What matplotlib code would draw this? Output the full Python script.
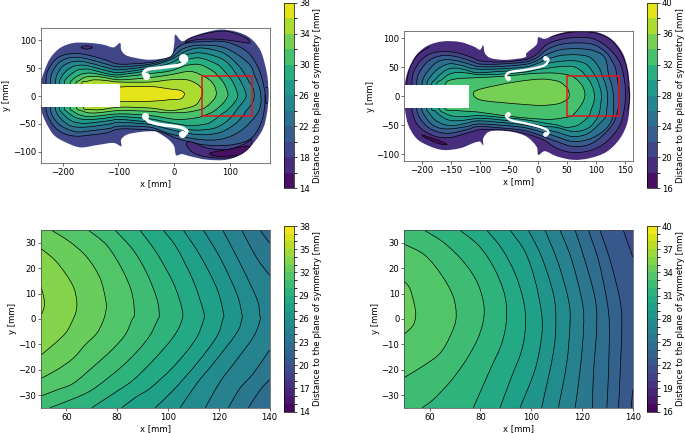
import matplotlib
matplotlib.use("Agg")
import matplotlib.pyplot as plt
import numpy as np
from matplotlib.cm import ScalarMappable
from matplotlib.colors import BoundaryNorm, ListedColormap
from matplotlib.patches import PathPatch, Rectangle
from matplotlib.path import Path

# ================= DATA =================
# Left plate, contours in mm
TL_OUTLINE = [(-239,21.5),(-233,44),(-222,68),(-204.5,86),(-180.6,95),(-151,95),(-127,92),(-109,87),(-97,95),(-95,83),(-88,74),(-73,69),(-43,65),(-7,71),(0,92),(2,110),(14,98),(29,105),(53,113),(82.5,119),(112,115),(136,104),(154,83),(163,56),(168,29),(169,-.5),(167,-27.5),(160,-57),(145,-81),(124,-102),(94.5,-114),(58.5,-114),(29,-108),(14,-104),(3.5,-106),(0,-90),(-10,-78),(-28,-66),(-37,-63),(-61,-64.5),(-84,-69),(-95,-78),(-95,-90),(-109,-84),(-139,-88),(-169,-92),(-198.5,-81),(-216.5,-69),(-231,-45),(-239,-20)]
TL_20 = [(-230,21.5),(-227,44),(-213,65),(-195.5,74),(-172,76),(-145,71),(-121,64),(-97,57),(-43,60),(-25,65),(-7,71),(5,86),(23,95),(47,97),(91.5,97),(130,80),(151,50),(161.5,14),(163,-10),(157,-45),(139,-75),(106,-87),(59,-88),(23,-81),(2,-75),(-19,-66),(-43,-61),(-97,-59),(-121,-66),(-151,-70),(-175,-72),(-195.5,-68),(-213,-57),(-225,-39),(-230,-20)]
TL_22 = [(-222,21.5),(-219,41),(-207.5,59),(-189.5,68),(-169,69),(-142,63),(-118,56),(-97,52),(-43,57),(-7,68),(17,85),(47,91),(91.5,86),(133,59),(145,35),(154,11),(155.5,-12.5),(148,-33),(120,-62),(85.5,-77),(47,-78),(-7,-68),(-43,-56),(-97,-54),(-118,-58.5),(-148,-62),(-172,-64.5),(-189.5,-60),(-206,-51),(-218,-36),(-222,-20)]
TL_24 = [(-213,21.5),(-210,38),(-200,53),(-184,61),(-166,62),(-139,56),(-118,50),(-97,47),(-43,54),(-7,65),(23,81),(50,86),(88.5,77),(115,55),(129,35),(135,24),(140,17),(143.5,5),(143,-5),(140,-12),(133.7,-21.4),(128.4,-27.3),(123.8,-35),(108,-51),(80,-66),(41,-69),(-7,-60),(-43,-51),(-97,-47),(-115,-50),(-142,-54),(-166,-56),(-184,-54),(-198.5,-45),(-209,-33),(-213,-20)]
TL_26 = [(-206,21.5),(-201.5,35),(-191,47),(-177.5,54),(-160,55),(-139,50),(-115,44),(-97,42),(-43,50),(-7,59),(23,74),(50,77),(82.5,68),(100,55),(114,35),(120.6,24),(127,10),(129,2),(129,-.4),(127,-5.6),(118,-17.5),(111.4,-25.4),(104.8,-35),(92,-47),(70.5,-58),(35,-61),(-7,-54),(-43,-47),(-97,-42),(-115,-44),(-139,-47),(-160,-49),(-177.5,-47),(-189.5,-41),(-201,-30),(-206,-20)]
TL_28 = [(-197,21.5),(-192.5,32),(-182,41),(-171.5,47),(-153.5,48),(-133,43),(-115,39),(-97,38),(-43,46),(-7,53),(23,65),(47,68),(76.5,57),(88,47),(98,35),(103.5,28),(110,15),(114,3),(114,-.4),(110.7,-8.3),(102.2,-18.8),(93,-27.3),(87.7,-30.6),(81.8,-35),(70,-44),(58,-50),(29,-53),(-7,-48),(-43,-41),(-97,-37),(-130,-40.5),(-151,-42),(-169,-41),(-180.5,-36.5),(-191,-29),(-197,-20)]
TL_30 = [(-186.5,21.5),(-182,29),(-174.5,35),(-163,40),(-148,41),(-130,38),(-112,35),(-97,34),(-43,40),(-7,45),(23,55),(47,56),(70.5,44),(79,35),(86.4,27),(91.7,18),(95.6,8),(96.6,1.6),(95.9,-.4),(93,-6.3),(88.4,-12.2),(81,-19.4),(70,-28),(61.4,-32),(53.5,-35),(40,-39),(5,-42),(-43,-35),(-97,-32),(-139,-36),(-157,-36.5),(-170,-33.5),(-180.5,-27.5),(-186.5,-20)]
TL_32 = [(-176,21.5),(-170,27.5),(-160,33.5),(-145,35),(-127,33.5),(-97,29),(-43,33),(-7,38),(29,44),(54,35),(61.4,30.4),(68,24.5),(73.3,16),(75.6,6.8),(75.6,3.5),(74.6,-.4),(72,-5.6),(67.4,-10.2),(62.7,-15.5),(56.2,-20),(50,-23.4),(23,-29),(-13,-30),(-43,-27.5),(-97,-26),(-136,-30),(-154,-30),(-166,-26),(-175,-20)]
TL_34 = [(-165.5,21.5),(-157,26),(-142,29),(-121,27.5),(-97,25),(-43,25),(-7,29),(23,29),(41,21.5),(50,12.7),(50.9,9.4),(51.4,6.2),(50.9,3.5),(50,1.6),(47,-5),(39.5,-15.5),(23,-21.5),(-7,-26),(-43,-21.5),(-97,-20),(-133,-24.5),(-151,-24),(-163,-20)]
TL_36 = [(-97,16),(-43,17),(-7,12.5),(11,10),(18.5,4),(12,-5),(-7,-6.5),(-43,-9.5),(-97,-9.5),(-110,-5),(-110,10)]
TL_18_TOP = [(20,96),(32,105),(61.5,113),(94.5,116),(127,105),(136,95),(118,97),(88.5,101),(58.5,102),(35,100)]
TL_18_BOT = [(21.5,-86),(32,-82.5),(58.5,-93),(94.5,-96),(124,-87),(139,-78),(133,-96),(106,-110),(64.5,-110),(35,-102)]
TL_18_LEFT = [(-167,87),(-157,90),(-146,87),(-157,84)]
TL_16_BOT = [(64.5,-102),(94.5,-96),(127,-90),(136,-92),(118,-105),(91.5,-108),(71,-107)]
TL_RIGHT_EDGE = [(164,16),(169,12),(169,-10),(164,-12),(163,2)]
TL_FHOLE_UP = [(-50,34),(-55,40),(-49,47),(-31,50),(-7,53),(11,56),(22,64),(20,71),(14,72)]
TL_FHOLE_LOW = [(-52,-35),(-46,-45),(-25,-51),(-1,-54),(14,-57),(23,-63),(18.5,-69),(14,-70)]
TL_FHOLE_ENDS = [(-50,35),(14,68),(-52,-36),(15,-68)]

# Right plate
TR_OUTLINE = [(-229,19.6),(-223,45.6),(-209,71.5),(-188.5,87.7),(-163,94.6),(-134,93.5),(-111,86),(-99.5,80),(-94,87.7),(-91,74),(-82,66),(-65,63),(-48,63),(-22,67),(-19,74.4),(-2,89),(1,101.5),(12.5,99),(33,107),(61.5,113),(96,112),(125,100),(145,77),(155,48),(159,14),(159,-9),(155,-44),(142,-73),(119,-96),(90,-107),(61.5,-110),(33,-104),(12.5,-95),(1,-101.5),(-2,-87),(-19,-70),(-42,-62),(-68,-59.5),(-85,-62),(-94,-73),(-94,-85),(-99.5,-78.5),(-111,-81),(-134,-90),(-163,-93),(-188.5,-85.5),(-209,-73),(-223,-50),(-229,-20)]
TR_20 = [(-217,19.6),(-214.5,40),(-203,60),(-186,72.7),(-163,77.3),(-137,74.4),(-111,65.8),(-99.5,61),(-65,58.9),(-22,63),(-2,72),(15.5,89),(38.5,97.5),(67,101.5),(96,99),(122,83),(142,57),(150.6,19.6),(150.6,-12),(142,-49.6),(119,-78.5),(93,-93),(61.5,-97.5),(33,-90),(10,-75.6),(-13,-67),(-36,-61.5),(-65,-58),(-99.5,-58),(-122.5,-64),(-151,-71.5),(-174,-70),(-194,-61),(-209,-46.7),(-217,-20.8)]
TR_22 = [(-208.7,19.6),(-206,37),(-194,55.4),(-180,65.8),(-160,70.4),(-137,67.5),(-111,58.9),(-99.5,55.4),(-65,55.4),(-22,58.9),(-2,66),(15.5,80),(38.5,89),(67,92),(96,89),(119,74.4),(133,51),(136.3,35),(139.7,11),(139.7,-15),(131.7,-44),(113,-67),(90,-83),(61.5,-87),(33,-78.5),(10,-70),(-13,-62),(-36,-57.5),(-99.5,-52.5),(-122.5,-58),(-151,-64),(-171,-62),(-188.6,-54),(-203,-38),(-208.7,-20.8)]
TR_24 = [(-199.6,19.6),(-195.5,34),(-185,48.5),(-173,59),(-157,63),(-134,60),(-111,53),(-99.5,50.8),(-65,51),(-22,54.8),(-2,61),(15.5,71.5),(38.5,80),(67,82),(96,78.5),(116,66),(122.5,35),(126.5,23.2),(129.8,7.5),(130.8,-3),(130.4,-22.7),(129.8,-35),(119,-55),(93,-72.7),(61.5,-78.5),(33,-70),(10,-63),(-13,-56.5),(-36,-52.5),(-99.5,-48),(-122.5,-52.5),(-151,-56.5),(-168.5,-55.4),(-183,-48.5),(-194,-35),(-200,-20.8)]
TR_26 = [(-191,19.6),(-187,31),(-177,42.7),(-165.6,51),(-151,56),(-131,53),(-108,47),(-65,47),(-22,50.2),(-2,56),(15.5,63),(38.5,70),(67,71.5),(90,67),(104.6,51),(111.4,35),(116,23.2),(120.2,6.2),(120.6,-4.3),(119.3,-20),(117.3,-35),(107.5,-46.7),(87.4,-64),(61.5,-70),(33,-62),(10,-57),(-13,-51.5),(-36,-48),(-99.5,-42.7),(-122.5,-46.7),(-145.5,-50.8),(-162.7,-48.5),(-177,-41),(-187,-29.4),(-191.5,-20.8)]
TR_28 = [(-183,19.6),(-177,28),(-168.5,37),(-157,45.6),(-142.6,48.5),(-125,45.6),(-105,40.5),(-65,42.7),(-22,45.6),(-2,50),(15.5,56),(38.5,60),(64,61),(84,55),(96,40),(98.9,35),(104.1,24.5),(108.7,10.1),(109.7,-.4),(108.7,-13.5),(104.1,-35),(87.4,-55),(61.5,-61),(33,-54),(10,-52),(-13,-47),(-36,-43.5),(-65,-41),(-99.5,-38),(-122.5,-41),(-142.6,-42.7),(-157,-40),(-170,-32),(-177,-25.4),(-183,-20.8)]
TR_30 = [(-174,19.6),(-165.6,28),(-154,37),(-140,41),(-122.5,40),(-99.5,37),(-65,38),(-22,41.5),(-2,45.5),(15.5,48),(38.5,51),(61.5,51),(76,42.7),(82.5,35),(88.4,27.8),(93.6,18),(96.9,7.5),(97.8,-1.7),(96.3,-12.2),(92.3,-22.7),(87.7,-35),(70,-49.6),(50,-54),(33,-49.6),(10,-46),(-13,-42),(-36,-39),(-70,-36),(-99.5,-33.5),(-125,-35),(-145.5,-34.6),(-160,-29.4),(-170,-20.8)]
TR_32 = [(-160,19.6),(-142.6,29.4),(-102,32),(-56,34.5),(-10,39),(24,40),(45,38),(57.9,35),(66,29.8),(73.9,21.9),(79.2,13.4),(81.5,3.5),(79.8,-5.6),(75.2,-14.8),(68.7,-24),(61.4,-31.8),(57,-35),(24,-40),(-10,-38.5),(-56,-34),(-102,-27.5),(-137,-25),(-160,-20.8)]
TR_34 = [(-111,5),(-102.5,11),(-73.6,18),(-33.4,25.4),(7,29.4),(35.6,25.4),(50,14.9),(52.2,12),(53.9,6),(54.5,1.6),(53.5,-2.4),(50,-6),(35.6,-13),(7,-16),(-28,-14),(-62.5,-11),(-91.5,-8),(-105.8,-3.5)]
TR_18_SLIVER = [(-199,-67),(-190,-70),(-175,-75),(-160,-81),(-157,-84),(-170,-82),(-185,-76),(-197,-70)]
TR_18_TOPRIGHT = [(21,101.5),(35.6,106),(61.5,110.8),(96,109.6),(125,98),(144,74.4),(153.5,48.5),(157.5,19.6)]
TR_18_LEFT = [(-226,19.6),(-221.4,45.6),(-207.6,70.4),(-186,86)]
TR_18_RIGHT = [(156,18),(158,5),(158,-10),(155,-25)]
TR_FHOLE_UP = [(-50.6,28),(-55,35),(-48,41.5),(-27.6,44.4),(-4.6,48.5),(12.7,54),(18.4,63),(12.7,67)]
TR_FHOLE_LOW = [(-50.6,-29.4),(-54.6,-35),(-45,-42),(-22,-46.7),(1,-52.5),(15.5,-58),(18.4,-64),(12.7,-67)]
TR_FHOLE_ENDS = [(-50.6,31),(12.7,66),(-50.6,-30),(12.7,-66)]

# Zoom of the left plate, contours every 1 mm
BL_34 = [(50,12.7),(50.9,9.4),(51.4,6.2),(50.9,3.5),(50,1.6)]
BL_33 = [(50,27.8),(55.5,23.2),(60.1,17.3),(63,12.1),(64.1,6.8),(63.8,2.9),(62.5,-.4),(60.1,-5),(56.2,-9),(50,-14.2)]
BL_32 = [(54.2,35),(61.4,30.4),(68,24.5),(73.3,16),(75.6,6.8),(75.6,3.5),(74.6,-.4),(72,-5.6),(67.4,-10.2),(62.7,-15.5),(56.2,-20.1),(50,-23.4)]
BL_31 = [(68.7,35),(75.9,29.1),(81.8,19.9),(85.7,10.7),(86.8,2.2),(85.8,-.4),(83.1,-6.3),(77.9,-12.2),(70.6,-18.8),(62.7,-25.4),(56.2,-28),(50,-30.4)]
BL_30 = [(79.2,35),(86.4,27.1),(91.7,18),(95.6,8.1),(96.6,1.6),(95.9,-.4),(93,-6.3),(88.4,-12.2),(81.1,-19.4),(70,-28),(61.4,-32),(53.5,-35)]
BL_29 = [(89,35),(95.6,26),(102.2,14),(105.5,4.2),(105.5,-.4),(102.2,-7),(94.3,-16.2),(86.4,-24),(79.8,-28.6),(70,-35)]
BL_28 = [(98.2,35),(103.5,28),(110,15),(114,3),(114,-.4),(110.7,-8.3),(102.2,-18.8),(93,-27.3),(87.7,-30.6),(81.8,-35)]
BL_27 = [(106.1,35),(112.7,25),(119.3,12),(121.9,2),(121.5,-.4),(119.2,-7),(111.4,-17.5),(102.2,-28),(95,-35)]
BL_26 = [(114,35),(120.6,24),(127.1,10),(129.1,2),(129,-.4),(127,-5.6),(117.9,-17.5),(111.4,-25.4),(104.8,-35)]
BL_25 = [(121.6,35),(128.4,22),(135,8),(136.1,2),(136.3,-.4),(133.7,-7),(127,-16.2),(120.6,-24.7),(114.7,-35)]
BL_24_UP = [(129.1,35),(135,24),(140,17.3)]
BL_24_LOW = [(140,-12.2),(133.7,-21.4),(128.4,-27.3),(123.8,-35)]
BL_23_UP = [(136.3,35),(140,30)]
BL_23_LOW = [(140,-24),(136.3,-28),(131.7,-35)]

# Zoom of the right plate
BR_34 = [(50,14.9),(52.2,12),(53.9,6),(54.5,1.6),(53.5,-2.4),(50,-6)]
BR_33 = [(50,29.5),(58.1,25.2),(64.7,17.3),(69.3,8.8),(70.4,.3),(68,-6.9),(64.1,-13.5),(58.1,-18.1),(50,-23.1)]
BR_32 = [(57.9,35),(66,29.8),(73.9,21.9),(79.2,13.4),(81.5,3.5),(79.8,-5.6),(75.2,-14.8),(68.7,-24),(61.4,-31.8),(57,-35)]
BR_31 = [(71.9,35),(79.2,29.1),(85.1,20.6),(89.4,10.1),(90.3,.3),(88.4,-9.6),(83.8,-20),(77.2,-35)]
BR_30 = [(82.5,35),(88.4,27.8),(93.6,18),(96.9,7.5),(97.8,-1.7),(96.3,-12.2),(92.3,-22.7),(87.7,-35)]
BR_29 = [(91.7,35),(97.6,26.5),(101.5,15.3),(104.1,2.2),(104.1,-6.9),(101.5,-20),(95.6,-35)]
BR_28 = [(98.9,35),(104.1,24.5),(108.7,10.1),(109.7,-.4),(108.7,-13.5),(104.1,-35)]
BR_27 = [(105.5,35),(110.7,21.9),(114.7,7.5),(115.3,-1.7),(114,-17.4),(110.7,-35)]
BR_26 = [(111.4,35),(116,23.2),(120.2,6.2),(120.6,-4.3),(119.3,-20),(117.3,-35)]
BR_25 = [(117.3,35),(121.2,23),(125.2,8),(125.8,-3),(124.5,-22),(124.1,-35)]
BR_24 = [(122.5,35),(126.5,23.2),(129.8,7.5),(130.8,-3),(130.4,-22.7),(129.8,-35)]
BR_23 = [(127.1,35),(131.1,23.2),(135,7.5),(135.7,-3),(135,-22.7),(134.4,-35)]
BR_22_UP = [(136.3,35),(140,24.5)]
BR_22_LOW = [(140,-27.9),(139.4,-35)]

# =================================================
W, H = 685, 433
LINE_W = 0.5
FS = 6.15


def axes_px(left, right, top, bottom):
    return [left / W, 1 - bottom / H, (right - left) / W, (bottom - top) / H]


def band_color(level, vmin, vmax):
    # contourf colours a band by its midpoint
    return plt.cm.viridis((level - vmin) / (vmax - vmin))


def curve(points, closed=False):
    """Path through the read points, bezier control points from neighbours."""
    p = np.array(points, dtype=float)
    if closed:
        p = np.vstack([p[-1], p, p[0], p[1]])
    else:
        p = np.vstack([p[0], p, p[-1]])
    verts = [p[1]]
    codes = [Path.MOVETO]
    for i in range(1, len(p) - 2):
        verts += [p[i] + (p[i + 1] - p[i - 1]) / 6, p[i + 1] - (p[i + 2] - p[i]) / 6, p[i + 1]]
        codes += [Path.CURVE4] * 3
    return verts, codes


def closed_contour(ax, points, color, clip=None, line=True):
    verts, codes = curve(points, closed=True)
    patch = PathPatch(Path(verts, codes), facecolor=color, edgecolor="black" if line else "none", linewidth=LINE_W, zorder=2)
    ax.add_patch(patch)
    if clip is not None:
        patch.set_clip_path(clip)


def open_line(ax, points, clip=None):
    verts, codes = curve(points)
    patch = PathPatch(Path(verts, codes), facecolor="none", edgecolor="black", linewidth=LINE_W, zorder=3)
    ax.add_patch(patch)
    if clip is not None:
        patch.set_clip_path(clip)


def draw_plate(ax, outline, contours, outer_level, vmin, vmax, rect, fholes, ends, fhole_w, end_s):
    verts, codes = curve(outline, closed=True)
    clip = PathPatch(Path(verts, codes), facecolor=band_color(outer_level + 1, vmin, vmax), edgecolor="none", zorder=1)
    ax.add_patch(clip)
    for level, pts in contours:
        closed_contour(ax, pts, band_color(level + 1, vmin, vmax), clip)
    # blank strip, f-holes and the zoom frame go on top
    ax.add_patch(Rectangle((ax.get_xlim()[0], rect[0]), rect[2] - ax.get_xlim()[0], rect[1] - rect[0], facecolor="white", edgecolor="none", zorder=4))
    for pts in fholes:
        verts, codes = curve(pts)
        ax.add_patch(PathPatch(Path(verts, codes), facecolor="none", edgecolor="white", linewidth=fhole_w, capstyle="round", zorder=4))
    ax.scatter(*zip(*ends), s=end_s, color="white", linewidths=0, zorder=4)
    ax.add_patch(Rectangle((50, -35), 90, 70, facecolor="none", edgecolor="#e8141a", linewidth=1.1, zorder=5))
    return clip


def draw_zoom(ax, contours, base_level, vmin, vmax):
    ax.set_facecolor(band_color(base_level + 0.5, vmin, vmax))
    for level, pieces in contours:
        verts, codes = [], []
        for pts in pieces:
            v, c = curve(pts)
            if verts:
                c = [Path.LINETO] + c[1:]
            verts += v
            codes += c
        verts += [(50, -35), (50, 35), verts[0]]
        codes += [Path.LINETO, Path.LINETO, Path.CLOSEPOLY]
        ax.add_patch(PathPatch(Path(verts, codes), facecolor=band_color(level + 0.5, vmin, vmax), edgecolor="none", zorder=2))
    for level, pieces in contours:
        for pts in pieces:
            open_line(ax, pts)


def add_colorbar(fig, pos, vmin, vmax, step, ticks):
    levels = np.arange(vmin, vmax + step, step)
    colors = [band_color(l + step / 2, vmin, vmax) for l in levels[:-1]]
    cax = fig.add_axes(pos)
    mappable = ScalarMappable(BoundaryNorm(levels, len(colors)), ListedColormap(colors))
    cb = fig.colorbar(mappable, cax=cax, ticks=ticks, spacing="proportional")
    cb.ax.tick_params(labelsize=FS, length=2, width=0.5, pad=1.5)
    cb.outline.set_linewidth(0.5)
    cb.set_label("Distance to the plane of symmetry [mm]", fontsize=FS, labelpad=2)


def style(ax, xlim, ylim, xticks, yticks):
    ax.set_xlim(*xlim)
    ax.set_ylim(*ylim)
    ax.set_xticks(xticks)
    ax.set_yticks(yticks)
    ax.tick_params(labelsize=FS, length=2, width=0.5, pad=1.5, color="#333333")
    ax.set_xlabel("x [mm]", fontsize=FS, labelpad=1.5)
    ax.set_ylabel("y [mm]", fontsize=FS, labelpad=1)
    for s in ax.spines.values():
        s.set_linewidth(0.5)
        s.set_color("#444444")
        s.set_zorder(6)


fig = plt.figure(figsize=(W / 100, H / 100), dpi=100)

# top left
ax = fig.add_axes(axes_px(41, 269.5, 28, 163))
style(ax, (-238.7, 171), (-120, 121.8), [-200, -100, 0, 100], [-100, -50, 0, 50, 100])
clip = draw_plate(ax, TL_OUTLINE,
                  [(20, TL_20), (22, TL_22), (24, TL_24), (26, TL_26), (28, TL_28), (30, TL_30), (32, TL_32), (34, TL_34), (36, TL_36),
                   (16, TL_18_TOP), (16, TL_18_BOT), (16, TL_18_LEFT), (14, TL_16_BOT)],
                  18, 14, 38, (-20, 22, -97), [TL_FHOLE_UP, TL_FHOLE_LOW], TL_FHOLE_ENDS, 2.4, 26)
open_line(ax, TL_RIGHT_EDGE, clip)
add_colorbar(fig, axes_px(283.5, 294, 3, 188), 14, 38, 2, np.arange(14, 39, 4))

# top right
ax = fig.add_axes(axes_px(404.3, 632.7, 30.7, 161.3))
style(ax, (-230, 163.8), (-112.5, 113), [-200, -150, -100, -50, 0, 50, 100, 150], [-100, -50, 0, 50, 100])
clip = draw_plate(ax, TR_OUTLINE,
                  [(20, TR_20), (22, TR_22), (24, TR_24), (26, TR_26), (28, TR_28), (30, TR_30), (32, TR_32), (34, TR_34), (16, TR_18_SLIVER)],
                  18, 16, 40, (-20.5, 19.6, -118.5), [TR_FHOLE_UP, TR_FHOLE_LOW], TR_FHOLE_ENDS, 1.7, 12)
for pts in [TR_18_TOPRIGHT, TR_18_LEFT, TR_18_RIGHT]:
    open_line(ax, pts, clip)
add_colorbar(fig, axes_px(647, 657, 3, 188), 16, 40, 2, np.arange(16, 41, 4))

# bottom left
ax = fig.add_axes(axes_px(41, 269.5, 230.3, 407.7))
style(ax, (50, 140), (-35, 35), [60, 80, 100, 120, 140], [-30, -20, -10, 0, 10, 20, 30])
draw_zoom(ax, [(23, [BL_23_UP, BL_23_LOW]), (24, [BL_24_UP, BL_24_LOW]), (25, [BL_25]), (26, [BL_26]), (27, [BL_27]), (28, [BL_28]),
               (29, [BL_29]), (30, [BL_30]), (31, [BL_31]), (32, [BL_32]), (33, [BL_33]), (34, [BL_34])], 22, 14, 38)
add_colorbar(fig, axes_px(283.5, 294, 226, 411.7), 14, 38, 1, np.arange(14, 39, 3))

# bottom right
ax = fig.add_axes(axes_px(404.3, 632.7, 230.3, 407.7))
style(ax, (50, 140), (-35, 35), [60, 80, 100, 120, 140], [-30, -20, -10, 0, 10, 20, 30])
draw_zoom(ax, [(22, [BR_22_UP, BR_22_LOW]), (23, [BR_23]), (24, [BR_24]), (25, [BR_25]), (26, [BR_26]), (27, [BR_27]), (28, [BR_28]),
               (29, [BR_29]), (30, [BR_30]), (31, [BR_31]), (32, [BR_32]), (33, [BR_33]), (34, [BR_34])], 21, 16, 40)
add_colorbar(fig, axes_px(647, 657, 226, 411.7), 16, 40, 1, np.arange(16, 41, 3))

fig.savefig("out.png", dpi=100)
